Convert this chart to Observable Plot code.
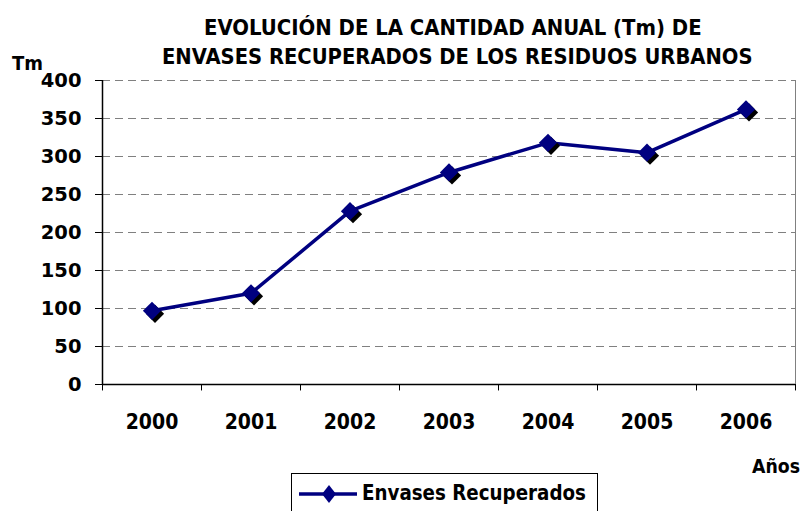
<!DOCTYPE html>
<html>
<head>
<meta charset="utf-8">
<script src="https://cdn.jsdelivr.net/npm/d3@7"></script>
<script src="https://cdn.jsdelivr.net/npm/@observablehq/plot@0.6"></script>
<style>
  html, body { margin: 0; padding: 0; background: #fff; }
  #wrap { position: relative; width: 805px; height: 511px; overflow: hidden; }
  #wrap > svg { position: absolute; left: 0; top: 0; }
  .t { position: absolute; font-family: "DejaVu Sans Condensed", "DejaVu Sans", sans-serif; font-stretch: condensed; font-weight: bold; color: #000; white-space: nowrap; line-height: 1; }
</style>
</head>
<body>
<div id="wrap"></div>
<script>
const years = ["2000", "2001", "2002", "2003", "2004", "2005", "2006"];
const envases = [97, 120, 228, 279, 318, 305, 362];
const yTicks = [0, 50, 100, 150, 200, 250, 300, 350, 400];
const titleLines = ["EVOLUCIÓN DE LA CANTIDAD ANUAL (Tm) DE", "ENVASES RECUPERADOS DE LOS RESIDUOS URBANOS"];
const seriesName = "Envases Recuperados";
const yLabel = "Tm";
const xLabel = "Años";

const data = years.map((y, i) => ({year: y, value: envases[i]}));
const navy = "#000080";
const W = 805, H = 511, mL = 102, mR = 10, mT = 80, mB = 127;
const bw = (W - mL - mR) / years.length;

const chart = Plot.plot({
  width: W, height: H,
  marginLeft: mL, marginRight: mR, marginTop: mT, marginBottom: mB,
  style: {background: "#fff", color: "#000"},
  x: {type: "band", domain: years, padding: 0},
  y: {domain: [0, 400]},
  marks: [
    Plot.ruleY(yTicks.filter(d => d > 0), {stroke: "#808080", strokeWidth: 1, strokeDasharray: "8,5", strokeOpacity: 1}),
    Plot.ruleX([years[years.length - 1]], {dx: bw / 2, stroke: "#808080", strokeWidth: 1, strokeOpacity: 1}),
    Plot.ruleX(years, {dx: -bw / 2, y1: 0, y2: -8.5, stroke: "#000", strokeWidth: 1, strokeOpacity: 1}),
    Plot.ruleX([years[years.length - 1]], {dx: bw / 2, y1: 0, y2: -8.5, stroke: "#000", strokeWidth: 1, strokeOpacity: 1}),
    Plot.axisY({ticks: yTicks, tickSize: 7, tickPadding: 14, fontSize: 19.5, fontWeight: "bold", fontFamily: "DejaVu Sans, sans-serif", label: null, strokeOpacity: 1}),
    Plot.axisX({tickSize: 0, tickPadding: 30, fontSize: 21, fontWeight: "bold", fontFamily: "DejaVu Sans Condensed, DejaVu Sans, sans-serif", label: null}),
    Plot.ruleY([0], {stroke: "#000", strokeWidth: 1.5}),
    Plot.ruleX([years[0]], {dx: -bw / 2, stroke: "#000", strokeWidth: 1.5}),
    Plot.line(data, {x: "year", y: "value", stroke: navy, strokeWidth: 3.5}),
    Plot.dot(data, {x: "year", y: "value", symbol: "diamond2", r: 8.2, fill: "#000", stroke: "none", dx: 3, dy: 3}),
    Plot.dot(data, {x: "year", y: "value", symbol: "diamond2", r: 8.2, fill: navy, stroke: "none"})
  ]
});
const wrap = document.getElementById("wrap");
wrap.appendChild(chart);

// place a text so that it spans [x0, x1] horizontally, vertically centred on cy
function fitText(txt, x0, x1, cy) {
  const d = document.createElement("div");
  d.className = "t";
  d.textContent = txt;
  d.style.fontSize = "20px";
  wrap.appendChild(d);
  const w = d.getBoundingClientRect().width;
  const fs = 20 * (x1 - x0) / w;
  d.style.fontSize = fs + "px";
  const r = d.getBoundingClientRect();
  d.style.left = x0 + "px";
  d.style.top = (cy - r.height / 2) + "px";
  return d;
}
fitText(titleLines[0], 204, 702, 28);
fitText(titleLines[1], 162, 753, 57);
fitText(yLabel, 12, 43, 63);
fitText(xLabel, 752, 800, 467);

// legend
const leg = document.createElement("div");
leg.style.cssText = "position:absolute;left:291px;top:473px;width:307px;height:50px;border:1px solid #000;box-sizing:border-box;background:#fff;";
wrap.appendChild(leg);
const sw = document.createElementNS("http://www.w3.org/2000/svg", "svg");
sw.setAttribute("width", "70");
sw.setAttribute("height", "36");
sw.style.cssText = "position:absolute;left:295px;top:476px";
sw.innerHTML = '<line x1="4" y1="18" x2="62" y2="18" stroke="' + navy + '" stroke-width="3.5"/><path d="M34,9 L41,18 L34,27 L27,18 Z" fill="' + navy + '"/>';
wrap.appendChild(sw);
fitText(seriesName, 362, 586, 493);
</script>
</body>
</html>
